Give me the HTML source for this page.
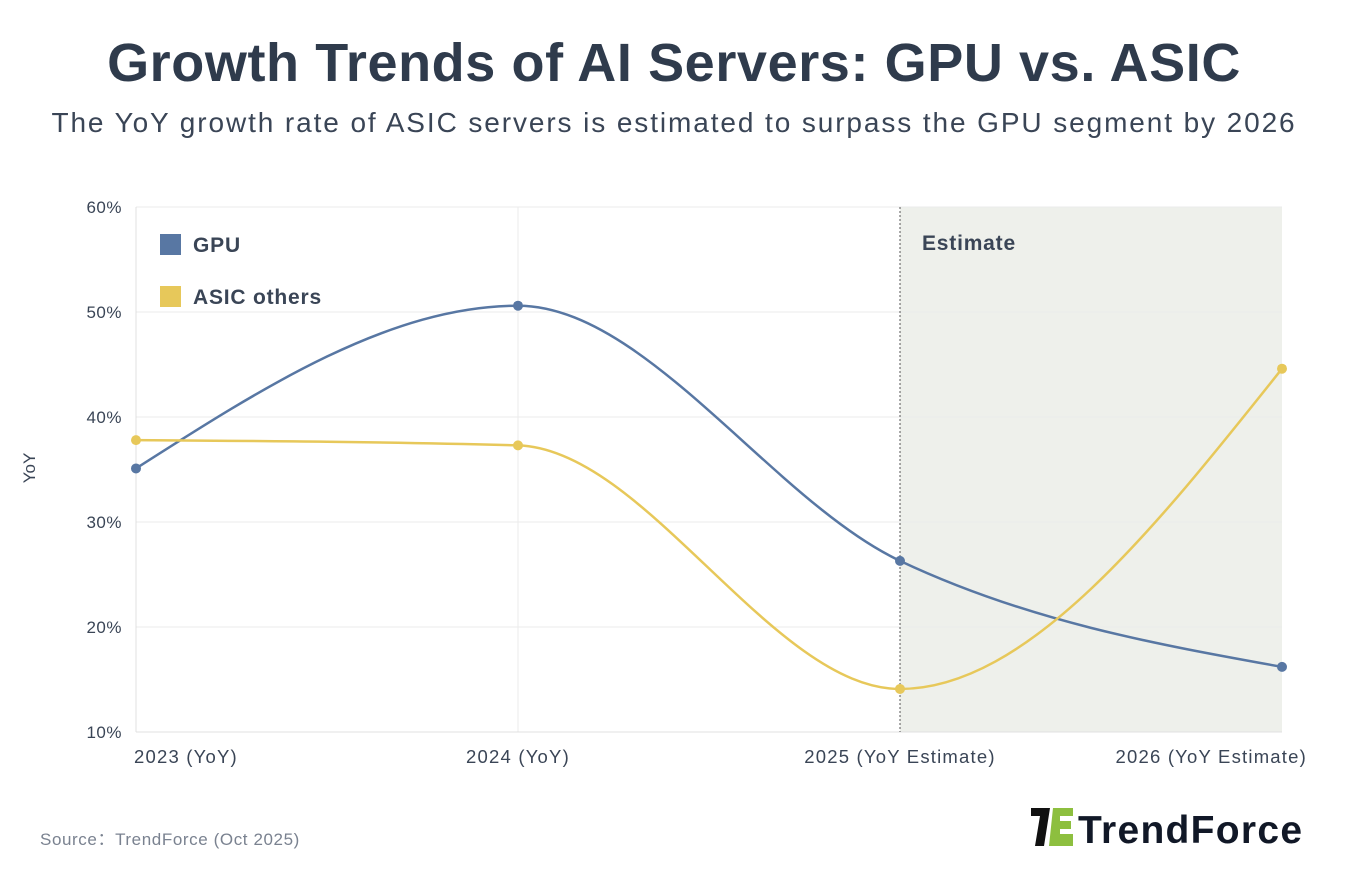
<!DOCTYPE html>
<html><head><meta charset="utf-8"><style>
body{margin:0;width:1348px;height:882px;background:#fff;overflow:hidden;font-family:"Liberation Sans",sans-serif}
#title{position:absolute;left:0;width:1348px;top:32px;text-align:center;font-size:54px;font-weight:bold;color:#2f3b4c;letter-spacing:0.6px}
#sub{position:absolute;left:0;width:1348px;top:107px;text-align:center;font-size:28px;color:#3a4556;letter-spacing:1.9px}
svg{position:absolute;left:0;top:0}
</style></head><body>
<div id="title">Growth Trends of AI Servers: GPU vs. ASIC</div>
<div id="sub">The YoY growth rate of ASIC servers is estimated to surpass the GPU segment by 2026</div>
<svg id="chart" width="1348" height="882"></svg>
<script>
const categories=["2023 (YoY)","2024 (YoY)","2025 (YoY Estimate)","2026 (YoY Estimate)"];
const gpuValues=[35.1,50.6,26.3,16.2];
const asicValues=[37.8,37.3,14.1,44.6];
const yTicks=[10,20,30,40,50,60];
const seriesNames=["GPU","ASIC others"];
const NS="http://www.w3.org/2000/svg";
const svg=document.getElementById('chart');
const L=136,R=1282,T=207,B=732;
const x=i=>L+i*(R-L)/(categories.length-1);
const y=v=>B-(v-10)/50*(B-T);
function mk(t,a,p){const e=document.createElementNS(NS,t);for(const k in a)e.setAttribute(k,a[k]);(p||svg).appendChild(e);return e;}
const er=mk('rect',{x:x(2),y:T,width:R-x(2),height:B-T,fill:'#eef0eb'});


yTicks.forEach(v=>{
 const g=mk('line',{x1:L,x2:R,y1:y(v),y2:y(v),stroke:'#ebebeb','stroke-width':1});
 
 
 const t=mk('text',{x:122,y:y(v)+6,'text-anchor':'end','font-size':17,fill:'#3a4556','letter-spacing':0.5});
 t.textContent=v+'%';
 
 
});
categories.forEach((c,i)=>{
 if(i==1){const g=mk('line',{x1:x(i),x2:x(i),y1:T,y2:B,stroke:'#ebebeb'});}
 const t=mk('text',{x:i==0?134:i==3?1307:x(i),y:763,'text-anchor':i==0?'start':i==3?'end':'middle','font-size':18.5,fill:'#3a4556','letter-spacing':1.2});
 t.textContent=c;
 
 
});
mk('line',{x1:L,x2:L,y1:T,y2:B,stroke:'#e0e0e0'});
mk('line',{x1:L,x2:R,y1:B,y2:B,stroke:'#e0e0e0'});
const dv=mk('line',{x1:x(2),x2:x(2),y1:T,y2:B,stroke:'#555','stroke-dasharray':'2,2','stroke-width':1});


const et=mk('text',{x:922,y:250,'font-size':21,'font-weight':'bold',fill:'#3a4556','letter-spacing':0.8});
et.textContent='Estimate';


const yt=mk('text',{x:0,y:0,transform:'translate(35,468) rotate(-90)','text-anchor':'middle','font-size':17,fill:'#3a4556'});
yt.textContent='YoY';


function monotone(px,py){
 const n=px.length,d=[],m=[];
 for(let i=0;i<n-1;i++)d.push((py[i+1]-py[i])/(px[i+1]-px[i]));
 for(let i=0;i<n;i++){
  if(i==0||i==n-1)m.push(0);
  else{const s0=d[i-1],s1=d[i];if(s0*s1<=0)m.push(0);else{const h0=px[i]-px[i-1],h1=px[i+1]-px[i];const p=(s0*h1+s1*h0)/(h0+h1);m.push((Math.sign(s0)+Math.sign(s1))*Math.min(Math.abs(s0),Math.abs(s1),0.5*Math.abs(p)));}}
 }
 m[0]=(3*d[0]-m[1])/2; m[n-1]=(3*d[n-2]-m[n-2])/2;
 let s='M'+px[0]+','+py[0];
 for(let i=0;i<n-1;i++){const h=(px[i+1]-px[i])/3;s+=' C'+(px[i]+h)+','+(py[i]+m[i]*h)+' '+(px[i+1]-h)+','+(py[i+1]-m[i+1]*h)+' '+px[i+1]+','+py[i+1];}
 return s;
}
const cols=['#5877a3','#e7c85a'];
[gpuValues,asicValues].forEach((vals,k)=>{
 const px=vals.map((v,i)=>x(i)),py=vals.map(v=>y(v));
 const p=mk('path',{d:monotone(px,py),fill:'none',stroke:cols[k],'stroke-width':2.5});
 
 
 vals.forEach((v,i)=>{const c=mk('circle',{cx:x(i),cy:y(v),r:5,fill:cols[k]});
  
  });
});
seriesNames.forEach((s,k)=>{
 const r=mk('rect',{x:160,y:234+k*52,width:21,height:21,fill:cols[k]});
 
 
 const t=mk('text',{x:193,y:252+k*52,'font-size':21,'font-weight':'bold',fill:'#3a4556','letter-spacing':0.8});
 t.textContent=s;
 
 
});
const src=mk('text',{x:40,y:845,'font-size':17,fill:'#7a8290','letter-spacing':0.6});
src.textContent='Source：TrendForce (Oct 2025)';


const lg=mk('g',{});


mk('path',{d:'M1031,808 h19 l-6,38 h-9 l5,-30 h-9 z',fill:'#111'},lg);
mk('path',{d:'M1053,808 h20 v8 h-13 v5 h11 v8 h-11 v5 h13 v12 h-24 z',fill:'#8dbf3f'},lg);
const lt=mk('text',{x:1078,y:843,'font-size':39,'font-weight':'bold',fill:'#111827','letter-spacing':1.3},lg);
lt.textContent='TrendForce';
</script>
</body></html>
